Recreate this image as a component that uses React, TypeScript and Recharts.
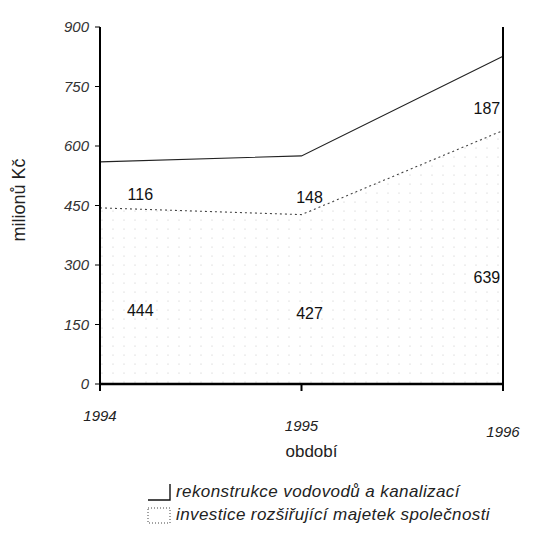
import React from 'react';
import { AreaChart, Area, XAxis, YAxis, ReferenceDot, ReferenceLine } from 'recharts';

const years = [1994, 1995, 1996];
const investice = [444, 427, 639];
const rekonstrukce = [116, 148, 187];
const yTicks = [0, 150, 300, 450, 600, 750, 900];
const seriesNames = ['rekonstrukce vodovodů a kanalizací', 'investice rozšiřující majetek společnosti'];

const data = years.map((year, i) => ({ year, investice: investice[i], rekonstrukce: rekonstrukce[i] }));

// label x shift per year so the numbers sit inside the band, like the printed original
const labelShift = [0.2, 0.04, -0.08];
// the scanned page is slightly skewed, year labels drop toward the right
const yearDrop = [28, 38, 44];

const font = '"Liberation Sans", Arial, sans-serif';

const XTick = (props: any) => {
	const { x, y, payload, index } = props;
	return (
		<text
			x={x}
			y={y + (yearDrop[index] ?? 36)}
			textAnchor="middle"
			fontFamily={font}
			fontStyle="italic"
			fontSize={15}
			fill="#222"
		>
			{payload.value}
		</text>
	);
};

const YTick = (props: any) => {
	const { x, y, payload } = props;
	return (
		<text x={x - 4} y={y + 5} textAnchor="end" fontFamily={font} fontStyle="italic" fontSize={15} fill="#333">
			{payload.value}
		</text>
	);
};

const LegendBox = ({ dotted }: { dotted: boolean }) => (
	<svg width={28} height={20} style={{ marginRight: 2, flexShrink: 0 }}>
		{dotted ? (
			<rect x={2} y={3} width={22} height={15} fill="none" stroke="#444" strokeWidth={1} strokeDasharray="1 2" />
		) : (
			<path d="M2 18 H24 V2" fill="none" stroke="#111" strokeWidth={1.4} />
		)}
	</svg>
);

const ChartLegend = () => (
	<div
		style={{
			position: 'absolute',
			left: 146,
			top: 480,
			fontFamily: font,
			fontStyle: 'italic',
			fontSize: 17,
			letterSpacing: 0.4,
			color: '#222',
		}}
	>
		{seriesNames.map((name, i) => (
			<div key={name} style={{ display: 'flex', alignItems: 'center', height: 23 }}>
				<LegendBox dotted={i === 1} />
				<span style={{ whiteSpace: 'nowrap' }}>{name}</span>
			</div>
		))}
	</div>
);

const App: React.FC = () => {
	return (
		<div style={{ position: 'absolute', left: 0, top: 0, width: 549, height: 541, background: '#fff' }}>
			<AreaChart width={549} height={541} data={data} margin={{ top: 27, right: 46, left: 0, bottom: 127 }}>
				<defs>
					<pattern id="stipple" width={11} height={9} patternUnits="userSpaceOnUse">
						<circle cx={3} cy={4} r={0.6} fill="#888" />
					</pattern>
				</defs>
				<XAxis
					dataKey="year"
					type="number"
					domain={[1994, 1996]}
					ticks={years}
					tick={<XTick />}
					axisLine={{ stroke: '#000', strokeWidth: 2.5 }}
					tickLine={{ stroke: '#000', strokeWidth: 2 }}
					tickSize={7}
					height={30}
					label={{
						content: (p: any) => (
							<text
								x={p.viewBox.x + p.viewBox.width / 2 + 10}
								y={p.viewBox.y + 73}
								textAnchor="middle"
								fontFamily={font}
								fontSize={17}
								fill="#222"
							>
								období
							</text>
						),
					}}
				/>
				<YAxis
					type="number"
					domain={[0, 900]}
					ticks={yTicks}
					width={100}
					tick={<YTick />}
					axisLine={{ stroke: '#000', strokeWidth: 2 }}
					tickLine={{ stroke: '#000', strokeWidth: 1 }}
					tickSize={5}
					label={{
						content: (p: any) => {
							const cx = 25;
							const cy = 200;
							return (
								<text
									x={cx}
									y={cy}
									transform={`rotate(-90 ${cx} ${cy})`}
									textAnchor="middle"
									fontFamily={font}
									fontSize={18}
									fill="#222"
								>
									milionů Kč
								</text>
							);
						},
					}}
				/>
				<ReferenceLine x={1996} stroke="#000" strokeWidth={2} />
				<Area
					type="linear"
					dataKey="investice"
					name={seriesNames[1]}
					stackId="a"
					stroke="#444"
					strokeWidth={1.1}
					strokeDasharray="2 3"
					fill="url(#stipple)"
					fillOpacity={0.5}
					isAnimationActive={false}
				/>
				<Area
					type="linear"
					dataKey="rekonstrukce"
					name={seriesNames[0]}
					stackId="a"
					stroke="#222"
					strokeWidth={1.1}
					fill="#fff"
					fillOpacity={0}
					isAnimationActive={false}
				/>
				{data.map((d, i) => (
					<ReferenceDot
						key={`inv-${d.year}`}
						x={d.year + labelShift[i]}
						y={d.investice * 0.42}
						r={0}
						label={{ value: d.investice, position: 'center', fill: '#111', fontSize: 16, fontFamily: font }}
					/>
				))}
				{data.map((d, i) => (
					<ReferenceDot
						key={`rek-${d.year}`}
						x={d.year + labelShift[i]}
						y={d.investice + d.rekonstrukce * 0.3}
						r={0}
						label={{ value: d.rekonstrukce, position: 'center', fill: '#111', fontSize: 16, fontFamily: font }}
					/>
				))}
			</AreaChart>
			<ChartLegend />
		</div>
	);
};

export default App;
